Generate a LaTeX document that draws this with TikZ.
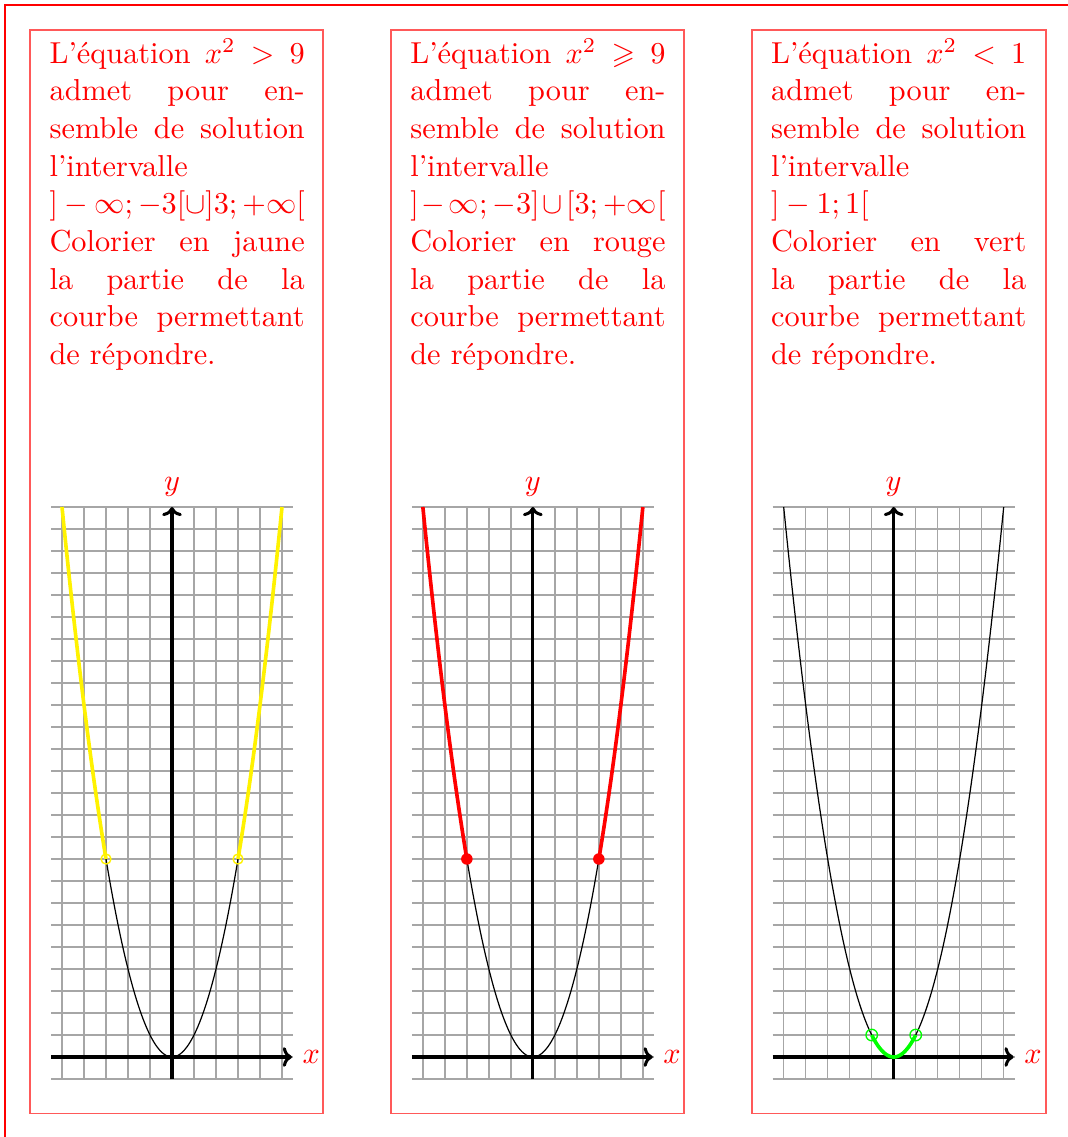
\documentclass[tikz,border=0pt]{standalone}
\usepackage{amssymb}
\usetikzlibrary{arrows.meta}
\tikzset{
  outerframe/.style={draw=red, line width=0.35pt},
  panelframe/.style={draw=red!65, line width=0.6pt},
  gridline/.style={draw=gray!70, line width=0.45pt},
  axisline/.style={draw=black, line width=1pt, -{To[length=3pt,width=6.5pt]}},
  axislabel/.style={text=red, inner sep=3.33pt},
  parab/.style={draw=black, line width=0.4pt},
  hilite/.style={line width=1.2pt},
  txt/.style={text=red, text width=84.2pt, align=justify, inner sep=0pt, anchor=north west, font=\fontsize{10}{12.42}\selectfont}
}
\begin{document}
\begin{tikzpicture}[x=0.330pt, y=-0.330pt]
\useasboundingbox (0,0) rectangle (1067,1137);
\draw[outerframe] (5,1140) -- (5,5) -- (1070,5);

% ---------- panel 1 ----------
\draw[panelframe] (30,30) rectangle (323,1113.5);
\node[txt] (t1) at (49,36.4) {\strut L'équation $x^2>9$\linebreak admet pour en-\linebreak semble de solution\linebreak l'intervalle\\ $]-\infty;-3[\cup]3;+\infty[$\\ Colorier en jaune\linebreak la partie de la\linebreak courbe permettant\linebreak de répondre.};
\begin{scope}[shift={(172,1057)}, x=7.26pt, y=7.26pt]
  \foreach \i in {-5,...,5} \draw[gridline] (\i,-1) -- (\i,25);
  \foreach \j in {-1,...,25} \draw[gridline] (-5.5,\j) -- (5.5,\j);
  \coordinate (xa1) at (-5.5,0); \coordinate (xb1) at (5.45,0);
  \coordinate (ya1) at (0,-1); \coordinate (yb1) at (0,25);
  \draw[axisline] (xa1) -- (xb1);
  \draw[axisline] (ya1) -- (yb1);
  \node[axislabel, anchor=west] (lx1) at (xb1) {$x$};
  \node[axislabel, anchor=south] (ly1) at (yb1) {$y$};
  \draw[parab] plot[domain=-5:5, samples=121, smooth] (\x,{\x*\x});
  \draw[hilite, yellow] plot[domain=-5:-3, samples=41, smooth] (\x,{\x*\x});
  \draw[hilite, yellow] plot[domain=3:5, samples=41, smooth] (\x,{\x*\x});
  \node[draw=yellow, circle, inner sep=0pt, minimum size=3.3pt, line width=0.45pt] (p1a) at (-3,9) {};
  \node[draw=yellow, circle, inner sep=0pt, minimum size=3.3pt, line width=0.45pt] (p1b) at (3,9) {};
\end{scope}

% ---------- panel 2 ----------
\draw[panelframe] (390.85,30) rectangle (683.85,1113.5);
\node[txt] (t2) at (409.75,36.4) {\strut L'équation $x^2\geqslant9$\linebreak admet pour en-\linebreak semble de solution\linebreak l'intervalle\\ $]-\infty;-3]\cup[3;+\infty[$\\ Colorier en rouge\linebreak la partie de la\linebreak courbe permettant\linebreak de répondre.};
\begin{scope}[shift={(532.85,1057)}, x=7.26pt, y=7.26pt]
  \foreach \i in {-5,...,5} \draw[gridline] (\i,-1) -- (\i,25);
  \foreach \j in {-1,...,25} \draw[gridline] (-5.5,\j) -- (5.5,\j);
  \coordinate (xa2) at (-5.5,0); \coordinate (xb2) at (5.45,0);
  \coordinate (ya2) at (0,-1); \coordinate (yb2) at (0,25);
  \draw[axisline] (xa2) -- (xb2);
  \draw[axisline] (ya2) -- (yb2);
  \node[axislabel, anchor=west] (lx2) at (xb2) {$x$};
  \node[axislabel, anchor=south] (ly2) at (yb2) {$y$};
  \draw[parab] plot[domain=-5:5, samples=121, smooth] (\x,{\x*\x});
  \draw[hilite, red] plot[domain=-5:-3, samples=41, smooth] (\x,{\x*\x});
  \draw[hilite, red] plot[domain=3:5, samples=41, smooth] (\x,{\x*\x});
  \node[fill=red, circle, inner sep=0pt, minimum size=3.8pt] (p2a) at (-3,9) {};
  \node[fill=red, circle, inner sep=0pt, minimum size=3.8pt] (p2b) at (3,9) {};
\end{scope}

% ---------- panel 3 ----------
\draw[panelframe] (751.7,30) rectangle (1046,1113.5);
\node[txt] (t3) at (770.5,36.4) {\strut L'équation $x^2<1$\linebreak admet pour en-\linebreak semble de solution\linebreak l'intervalle\\ $]-1;1[$\\ Colorier en vert\linebreak la partie de la\linebreak courbe permettant\linebreak de répondre.};
\begin{scope}[shift={(893.7,1057)}, x=7.26pt, y=7.26pt]
  \foreach \i in {-5,...,5} \draw[gridline] (\i,-1) -- (\i,25);
  \foreach \j in {-1,...,25} \draw[gridline] (-5.5,\j) -- (5.5,\j);
  \coordinate (xa3) at (-5.5,0); \coordinate (xb3) at (5.45,0);
  \coordinate (ya3) at (0,-1); \coordinate (yb3) at (0,25);
  \draw[axisline] (xa3) -- (xb3);
  \draw[axisline] (ya3) -- (yb3);
  \node[axislabel, anchor=west] (lx3) at (xb3) {$x$};
  \node[axislabel, anchor=south] (ly3) at (yb3) {$y$};
  \draw[parab] plot[domain=-5:5, samples=121, smooth] (\x,{\x*\x});
  \draw[hilite, green] plot[domain=-1:1, samples=41, smooth] (\x,{\x*\x});
  \node[draw=green, circle, inner sep=0pt, minimum size=3.8pt, line width=0.45pt] (p3a) at (-1,1) {};
  \node[draw=green, circle, inner sep=0pt, minimum size=3.8pt, line width=0.45pt] (p3b) at (1,1) {};
\end{scope}
\end{tikzpicture}
\end{document}
